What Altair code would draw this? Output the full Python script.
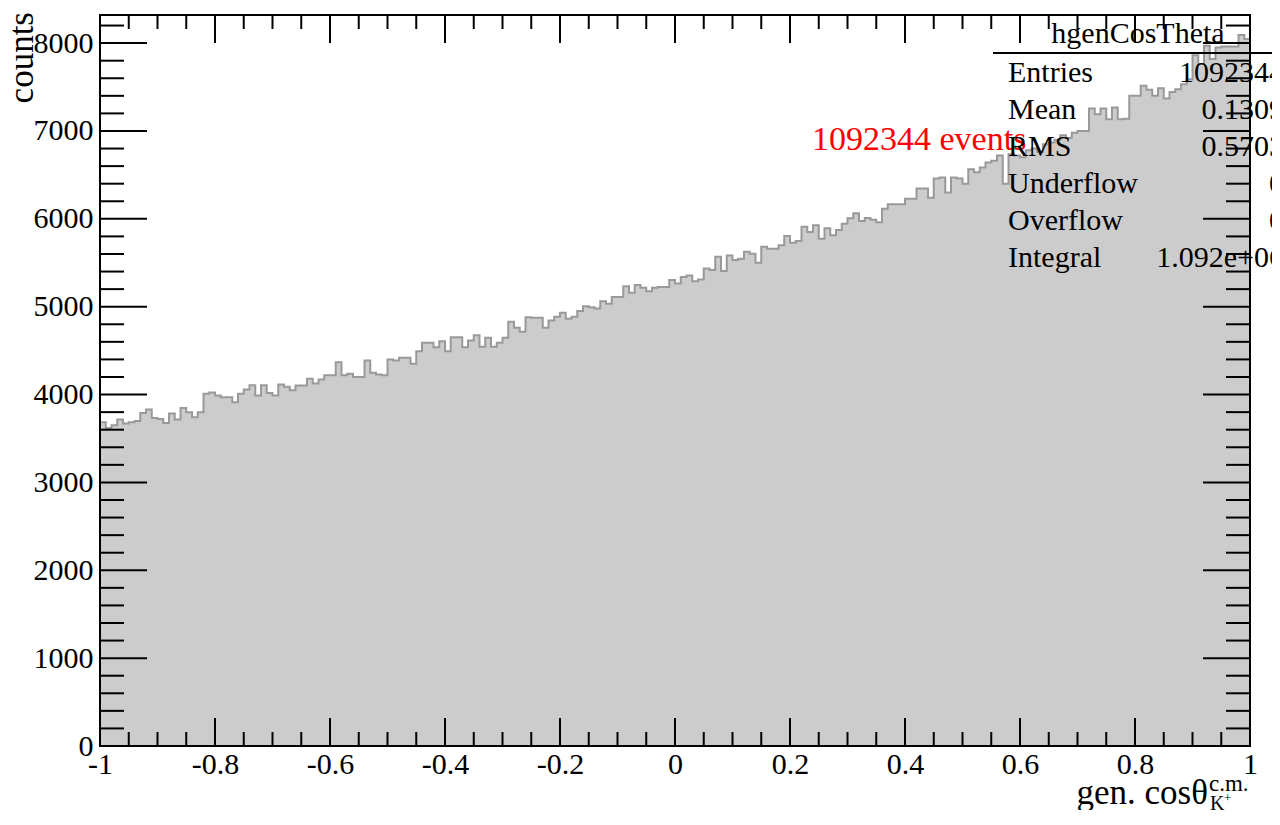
import altair as alt
import pandas as pd

# ---------------- data ----------------
x_min, x_max = -1.0, 1.0
counts = [
    3684, 3620, 3650, 3715, 3670, 3684, 3700, 3790, 3829, 3734,
    3722, 3677, 3783, 3715, 3848, 3798, 3741, 3798, 4008, 4023,
    3989, 3970, 3970, 3912, 4008, 4057, 4106, 3989, 4106, 4019,
    3989, 4114, 4090, 4049, 4103, 4103, 4179, 4125, 4171, 4220,
    4220, 4368, 4220, 4236, 4201, 4201, 4387, 4247, 4228, 4220,
    4399, 4387, 4418, 4418, 4350, 4494, 4589, 4589, 4539, 4608,
    4494, 4653, 4653, 4539, 4615, 4676, 4543, 4646, 4543, 4589,
    4646, 4828, 4760, 4714, 4881, 4874, 4874, 4760, 4843, 4885,
    4931, 4863, 4885, 4950, 5006, 4995, 4980, 5063, 5033, 5109,
    5109, 5234, 5159, 5246, 5216, 5177, 5216, 5223, 5223, 5303,
    5265, 5337, 5356, 5291, 5310, 5436, 5417, 5569, 5405, 5584,
    5531, 5546, 5626, 5603, 5500, 5683, 5660, 5660, 5698, 5804,
    5729, 5747, 5911, 5850, 5926, 5774, 5892, 5812, 5873, 5945,
    6006, 6063, 5975, 6010, 5990, 5960, 6116, 6165, 6165, 6165,
    6230, 6230, 6344, 6344, 6241, 6460, 6470, 6300, 6470, 6460,
    6400, 6564, 6530, 6583, 6640, 6660, 6720, 6400, 6735, 6720,
    6700, 6780, 6800, 6760, 6850, 6870, 6900, 6950, 6920, 6980,
    7001, 7001, 7255, 7191, 7255, 7134, 7267, 7134, 7140, 7400,
    7400, 7514, 7468, 7400, 7487, 7370, 7445, 7476, 7533, 7590,
    7863, 7761, 7970, 7818, 7951, 7962, 7962, 7962, 8091, 8046,
]
y_major = [0, 1000, 2000, 3000, 4000, 5000, 6000, 7000, 8000]
y_minor = [200 * k for k in range(42) if k % 5]
x_major = [-1, -0.8, -0.6, -0.4, -0.2, 0, 0.2, 0.4, 0.6, 0.8, 1]
x_minor = [round(-1 + 0.05 * k, 2) for k in range(41) if k % 4]
stat_title = "hgenCosTheta"
stat_names = ["Entries", "Mean", "RMS", "Underflow", "Overflow", "Integral"]
stat_values = ["1092344", "0.1309", "0.5703", "0", "0", "1.092e+06"]
events_text = "1092344 events"
y_title = "counts"
x_title = "gen. cos\u03b8"
x_sup = "c.m."
x_sub = "K"
x_subsup = "+"

# ---------------- build ----------------
n_bins = len(counts)
bw = (x_max - x_min) / n_bins
hist = pd.DataFrame({
    "x": [x_min + i * bw for i in range(n_bins)] + [x_max],
    "c": counts + [counts[-1]],
})

W, H = 1150, 731
FONT = "Liberation Serif"
xs = alt.Scale(domain=[x_min, x_max], nice=False, zero=False)
ys = alt.Scale(domain=[0, 8320], nice=False, zero=False)

x_axis = alt.Axis(values=x_major, ticks=False, tickSize=0, domain=False, grid=False,
                  labelFont=FONT, labelFontSize=30, labelColor="black",
                  labelPadding=3, labelBaseline="top", labelFlush=False,
                  labelOverlap=False, labelBound=False, title=None,
                  labelExpr="datum.value == 0 ? '0' : (datum.value < 0 ? '-' + format(-datum.value, '~g') : format(datum.value, '~g'))")
y_axis = alt.Axis(values=y_major, format="d", ticks=False, tickSize=0, domain=False, grid=False,
                  labelFont=FONT, labelFontSize=30, labelColor="black",
                  labelPadding=7, labelFlush=False, labelOverlap=False, labelBound=False,
                  labelBaseline="middle", title=None)

X = lambda f: alt.X(f, scale=xs, axis=x_axis)
Y = lambda f: alt.Y(f, scale=ys, axis=y_axis)

area = alt.Chart(hist).mark_area(interpolate="step-after", color="#cccccc").encode(
    x=X("x:Q"), y=Y("c:Q"))
outline = alt.Chart(hist).mark_line(interpolate="step-after", color="#999999", strokeWidth=2).encode(
    x=X("x:Q"), y=Y("c:Q"))

layers = [area, outline]

def yticks(vals, length):
    df = pd.DataFrame({"v": vals})
    left = alt.Chart(df).mark_rule(color="black", strokeWidth=2).encode(
        y=Y("v:Q"), x=alt.value(0), x2=alt.value(length))
    right = alt.Chart(df).mark_rule(color="black", strokeWidth=2).encode(
        y=Y("v:Q"), x=alt.value(W), x2=alt.value(W - length))
    return [left, right]

def xticks(vals, length):
    df = pd.DataFrame({"v": vals})
    bot = alt.Chart(df).mark_rule(color="black", strokeWidth=2).encode(
        x=X("v:Q"), y=alt.value(H), y2=alt.value(H - length))
    top = alt.Chart(df).mark_rule(color="black", strokeWidth=2).encode(
        x=X("v:Q"), y=alt.value(0), y2=alt.value(length))
    return [bot, top]

layers += yticks(y_major, 47) + yticks(y_minor, 24)
layers += xticks(x_major, 28) + xticks(x_minor, 14)

one = pd.DataFrame({"a": [0]})
frame = alt.Chart(one).mark_rect(fillOpacity=0, stroke="black", strokeWidth=2).encode(
    x=alt.value(0), x2=alt.value(W), y=alt.value(0), y2=alt.value(H))
layers.append(frame)

def text(t, x, y, size, align="left", color="black", angle=0, baseline="alphabetic"):
    return alt.Chart(pd.DataFrame({"t": [t]})).mark_text(
        font=FONT, fontSize=size, align=align, baseline=baseline, color=color, angle=angle
    ).encode(x=alt.value(x), y=alt.value(y), text="t:N")

# axis titles
layers.append(text(y_title, -67, -3, 35, align="right", angle=270))
layers.append(text(x_title, 1108, 789, 35, align="right"))
layers.append(text(x_sup, 1109, 776, 23))
layers.append(text(x_sub, 1110, 795, 20))
layers.append(text(x_subsup, 1124, 787, 13))

# red annotation
layers.append(text(events_text, 712, 135, 34, color="red"))

# stats box
layers.append(text(stat_title, 1038, 28, 30, align="center"))
layers.append(alt.Chart(one).mark_rule(color="black", strokeWidth=2).encode(
    x=alt.value(893), x2=alt.value(1200), y=alt.value(38)))
for i, (nm, val) in enumerate(zip(stat_names, stat_values)):
    layers.append(text(nm, 908, 67 + 37 * i, 30))
    layers.append(text(val, 1184, 67 + 37 * i, 30, align="right"))

chart = alt.layer(*layers).properties(
    width=W, height=H,
    autosize=alt.AutoSizeParams(type="none"),
    padding={"left": 92, "top": 7, "right": 22, "bottom": 64},
    background="white",
).configure_view(stroke=None)

chart.save("out.html", embed_options={"renderer": "svg", "actions": False})
